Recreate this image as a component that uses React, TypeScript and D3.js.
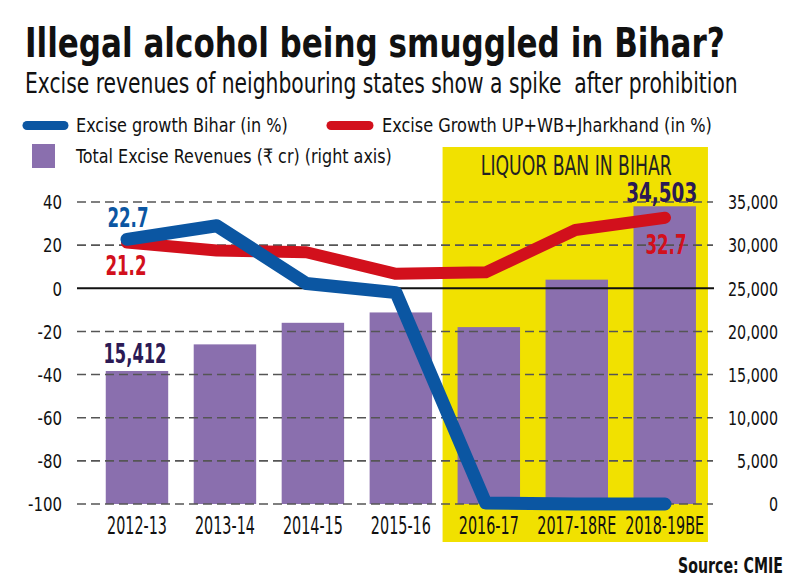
import React from "react";
import * as d3 from "d3";

const categories = ["2012-13", "2013-14", "2014-15", "2015-16", "2016-17", "2017-18RE", "2018-19BE"];
const biharGrowth = [22.7, 29, 2.2, -2, -99.5, -100, -100];
const neighbourGrowth = [21.2, 17.5, 16.7, 6.7, 7.4, 27, 32.7];
const totalRevenue = [15412, 18500, 21000, 22200, 20500, 26000, 34503];
const leftTicks = [40, 20, 0, -20, -40, -60, -80, -100];
const rightTicks = [35000, 30000, 25000, 20000, 15000, 10000, 5000, 0];
const banCategories = ["2016-17", "2017-18RE", "2018-19BE"];

const FAMILY = "'DejaVu Sans Condensed', 'DejaVu Sans', sans-serif";
const BLUE = "#0b56a2";
const RED = "#d2101c";
const PURPLE = "#8a6fae";
const YELLOW = "#f1e100";
const DARKPURPLE = "#2b1a55";

let ctx: CanvasRenderingContext2D | null = null;
function measure(text: string, size: number, weight: number): number {
  if (!ctx) ctx = document.createElement("canvas").getContext("2d");
  if (!ctx) return text.length * size * 0.55;
  ctx.font = `${weight} ${size}px ${FAMILY}`;
  return ctx.measureText(text).width || text.length * size * 0.55;
}

type CondProps = {
  text: string;
  x: number;
  y: number;
  size: number;
  weight?: number;
  width?: number;
  sx?: number;
  anchor?: "start" | "middle" | "end";
  fill?: string;
  dy?: string;
};

function Cond({ text, x, y, size, weight = 400, width, sx, anchor = "start", fill = "#111", dy }: CondProps) {
  const s = width !== undefined ? width / measure(text, size, weight) : sx ?? 1;
  return (
    <g transform={`translate(${x},${y}) scale(${s},1)`}>
      <text x={0} y={0} dy={dy} textAnchor={anchor} fontFamily={FAMILY} fontWeight={weight} fontSize={size} fill={fill} style={{ whiteSpace: "pre" }}>
        {text}
      </text>
    </g>
  );
}

export default function App() {
  const yL = d3.scaleLinear().domain([-100, 40]).range([504, 202]);
  const yR = d3.scaleLinear().domain([0, 35000]).range([504, 202]);
  const x = d3.scaleBand<string>().domain(categories).range([93, 708.7]).paddingInner(0.29).paddingOuter(0.145);
  const xp = d3.scalePoint<string>().domain(categories).range([127, 665]);
  const bw = x.bandwidth();
  const lineGen = d3.line<number>().x((_, i) => xp(categories[i]) as number).y((d) => yL(d));
  const gx0 = 77, gx1 = 713;
  const banX0 = (x(banCategories[0]) as number) - 15;
  const banX1 = (x(banCategories[banCategories.length - 1]) as number) + bw + 12;
  const fmt = d3.format(",");
  const last = categories.length - 1;

  const leftSx = 34 / measure("-100", 20, 400);
  const rightSx = 50 / measure("35,000", 20, 400);
  const catSx = 60 / measure("2012-13", 24, 400);
  const decSx = 41 / measure("22.7", 27, 700);

  return (
    <svg width={800} height={585} style={{ position: "absolute", left: 0, top: 0, background: "#fff" }}>
      <rect x={0} y={0} width={800} height={585} fill="#fff" />
      {/* title */}
      <Cond text="Illegal alcohol being smuggled in Bihar?" x={25} y={57} size={40} weight={700} width={700} />
      <Cond text="Excise revenues of neighbouring states show a spike  after prohibition" x={25} y={93} size={29} width={713} />
      {/* legend */}
      <line x1={27} x2={64} y1={125.5} y2={125.5} stroke={BLUE} strokeWidth={9} strokeLinecap="round" />
      <Cond text="Excise growth Bihar (in %)" x={76} y={132} size={20} width={212} />
      <line x1={331} x2={369} y1={125.5} y2={125.5} stroke={RED} strokeWidth={9} strokeLinecap="round" />
      <Cond text="Excise Growth UP+WB+Jharkhand (in %)" x={382} y={132} size={20} width={330} />
      <rect x={32} y={144} width={23} height={24} fill={PURPLE} />
      <Cond text="Total Excise Revenues (₹ cr) (right axis)" x={76} y={163} size={20} width={316} />
      {/* ban highlight */}
      <rect x={banX0} y={147} width={banX1 - banX0} height={395} fill={YELLOW} />
      <Cond text="LIQUOR BAN IN BIHAR" x={(banX0 + banX1) / 2 + 1} y={175} size={26} width={191} anchor="middle" fill="#222" />
      {/* bars */}
      {totalRevenue.map((v, i) => (
        <rect key={categories[i]} x={x(categories[i])} y={yR(v)} width={bw} height={yR(0) - yR(v)} fill={PURPLE} />
      ))}
      {/* grid */}
      {leftTicks.filter((t) => t !== 0).map((t) => (
        <line key={t} x1={gx0} x2={gx1} y1={yL(t)} y2={yL(t)} stroke="#555" strokeWidth={1.6} strokeDasharray="9,5" />
      ))}
      <line x1={gx0} x2={gx1 + 1} y1={yL(0)} y2={yL(0)} stroke="#111" strokeWidth={2} />
      {/* axis labels */}
      {leftTicks.map((t) => (
        <Cond key={t} text={String(t)} x={62} y={yL(t)} dy="0.36em" size={20} sx={leftSx} anchor="end" />
      ))}
      {rightTicks.map((t) => (
        <Cond key={t} text={fmt(t)} x={778} y={yR(t)} dy="0.36em" size={20} sx={rightSx} anchor="end" />
      ))}
      {categories.map((c) => (
        <Cond key={c} text={c} x={(x(c) as number) + bw / 2} y={534} size={24} sx={catSx} anchor="middle" />
      ))}
      {/* lines */}
      <path d={lineGen(neighbourGrowth) || ""} fill="none" stroke={RED} strokeWidth={12} strokeLinecap="round" strokeLinejoin="round" />
      <path d={lineGen(biharGrowth) || ""} fill="none" stroke={BLUE} strokeWidth={13} strokeLinecap="round" strokeLinejoin="round" />
      {/* value labels */}
      <Cond text={String(biharGrowth[0])} x={(xp(categories[0]) as number) + 1} y={yL(biharGrowth[0]) - 12} size={27} weight={700} sx={decSx} anchor="middle" fill={BLUE} />
      <Cond text={String(neighbourGrowth[0])} x={(xp(categories[0]) as number) - 1} y={yL(neighbourGrowth[0]) + 32} size={27} weight={700} sx={decSx} anchor="middle" fill={RED} />
      <Cond text={String(neighbourGrowth[last])} x={(xp(categories[last]) as number) + 1} y={yL(neighbourGrowth[last]) + 36} size={27} weight={700} sx={decSx} anchor="middle" fill={RED} />
      <Cond text={fmt(totalRevenue[0])} x={(x(categories[0]) as number) + bw / 2 - 2} y={yR(totalRevenue[0]) - 8} size={27} weight={700} width={63} anchor="middle" fill={DARKPURPLE} />
      <Cond text={fmt(totalRevenue[last])} x={(x(categories[last]) as number) + bw / 2 - 3} y={yR(totalRevenue[last]) - 4} size={26} weight={700} width={71} anchor="middle" fill={DARKPURPLE} />
      <Cond text="Source: CMIE" x={783} y={573} size={21} weight={700} width={105} anchor="end" />
    </svg>
  );
}
